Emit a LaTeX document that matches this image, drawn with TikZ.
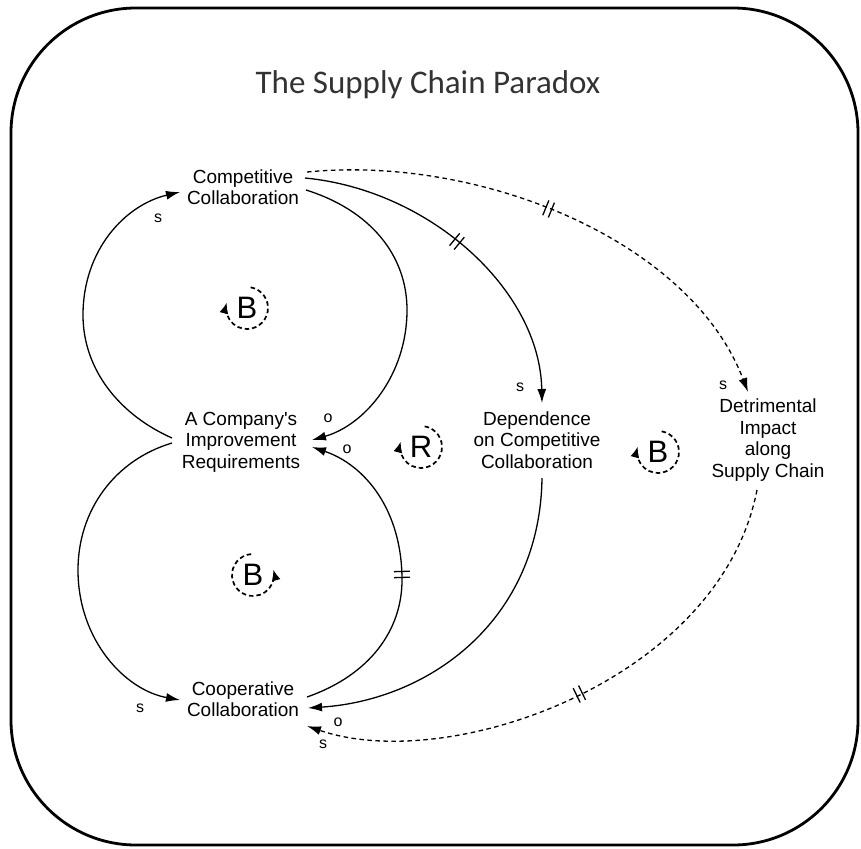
\documentclass[tikz,border=0pt]{standalone}
\usepackage{fontspec}
\setmainfont{Liberation Sans}
\newfontfamily\titlefont{Carlito}
\usetikzlibrary{arrows.meta,calc,decorations.markings}
\begin{document}
\begin{tikzpicture}[x=1pt,y=-1pt,
  var/.style={align=center,inner sep=2pt,font=\fontsize{19}{21.5}\selectfont},
  pol/.style={inner sep=0pt,font=\fontsize{16}{16}\selectfont},
  tipa/.tip={Latex[length=14pt,width=9pt]},
  tipb/.tip={Latex[length=11pt,width=9pt]},
  link/.style={line width=1.3pt,-tipa},
  dlink/.style={link,dash pattern=on 4.5pt off 3.5pt},
  delaymark/.style={postaction={decorate},decoration={markings,mark=at position #1 with {\draw[solid,arrows=-,line width=1.3pt] (-3pt,-8pt)--(-3pt,8pt) (3pt,-8pt)--(3pt,8pt);}}},
  loopltr/.style={inner sep=0pt,font=\fontsize{31}{31}\selectfont},
  loopc/.style={line width=1.7pt,dash pattern=on 4.5pt off 3pt,-tipb},
]
\useasboundingbox (0,0) rectangle (861,848);
\draw[line width=2.8pt,rounded corners=125pt] (11,8) rectangle (858,845);

\node[font=\titlefont\fontsize{33}{33}\selectfont,text=black!80] (title) at (428,85) {The Supply Chain Paradox};

\node[var] (cc) at (243,187) {Competitive\\Collaboration};
\node[var] (acir) at (241,442) {A Company\textquotesingle s\\Improvement\\Requirements};
\node[var] (coc) at (243,699) {Cooperative\\Collaboration};
\node[var] (dcc) at (537,440) {Dependence\\on Competitive\\Collaboration};
\node[var] (di) at (768,440) {Detrimental\\Impact\\along\\Supply Chain};

% left top loop
\draw[link] ($(acir.center)+(-69,-4)$) .. controls (120,415) and (83,370) .. (83,315)
  .. controls (83,250) and (125,205) .. ($(cc.center)+(-63,5)$);
\draw[link] ($(cc.center)+(63,3)$) .. controls (370,210) and (407,255) .. (407,310)
  .. controls (407,375) and (365,425) .. ($(acir.center)+(71,-2)$);
% bottom loop
\draw[link] ($(acir.center)+(-69,1)$) .. controls (115,460) and (78,510) .. (78,570)
  .. controls (78,640) and (125,690) .. ($(coc.center)+(-63,1)$);
\draw[link,delaymark=0.5] ($(coc.center)+(64,-2)$) .. controls (370,675) and (402,630) .. (402,580)
  .. controls (402,510) and (365,465) .. ($(acir.center)+(71,5)$);
% outer links
\draw[link,delaymark=0.47] ($(cc.center)+(62,-9)$) .. controls (430,190) and (540,290) .. ($(dcc.center)+(5,-37)$);
\draw[dlink,delaymark=0.47] ($(cc.center)+(64,-15)$) .. controls (480,155) and (690,240) .. ($(di.center)+(-20,-48)$);
\draw[link] ($(dcc.center)+(5,38)$) .. controls (540,620) and (430,700) .. ($(coc.center)+(65,9)$);
\draw[dlink,delaymark=0.5] ($(di.center)+(-11,50)$) .. controls (720,680) and (450,775) .. ($(coc.center)+(64,27)$);

% polarity labels
\node[pol] (sA) at (158,218) {s};
\node[pol] (oB) at (328,418) {o};
\node[pol] (sC) at (140,708) {s};
\node[pol] (oD) at (347,449) {o};
\node[pol] (sE) at (520,387) {s};
\node[pol] (sF) at (723,385) {s};
\node[pol] (oG) at (338,722) {o};
\node[pol] (sH) at (323,744) {s};

% loop markers
\coordinate (l1) at (247,308);
\node[loopltr] (b1) at (l1) {B};
\draw[loopc] ([shift={(-80:21)}]l1) arc (-80:195:21);
\coordinate (l2) at (253,575);
\node[loopltr] (b2) at (l2) {B};
\draw[loopc] ([shift={(265:21)}]l2) arc (265:-15:21);
\coordinate (l3) at (421,447);
\node[loopltr] (r1) at (l3) {R};
\draw[loopc] ([shift={(-80:21)}]l3) arc (-80:195:21);
\coordinate (l4) at (658,452);
\node[loopltr] (b3) at (l4) {B};
\draw[loopc] ([shift={(-80:21)}]l4) arc (-80:195:21);
\end{tikzpicture}
\end{document}
